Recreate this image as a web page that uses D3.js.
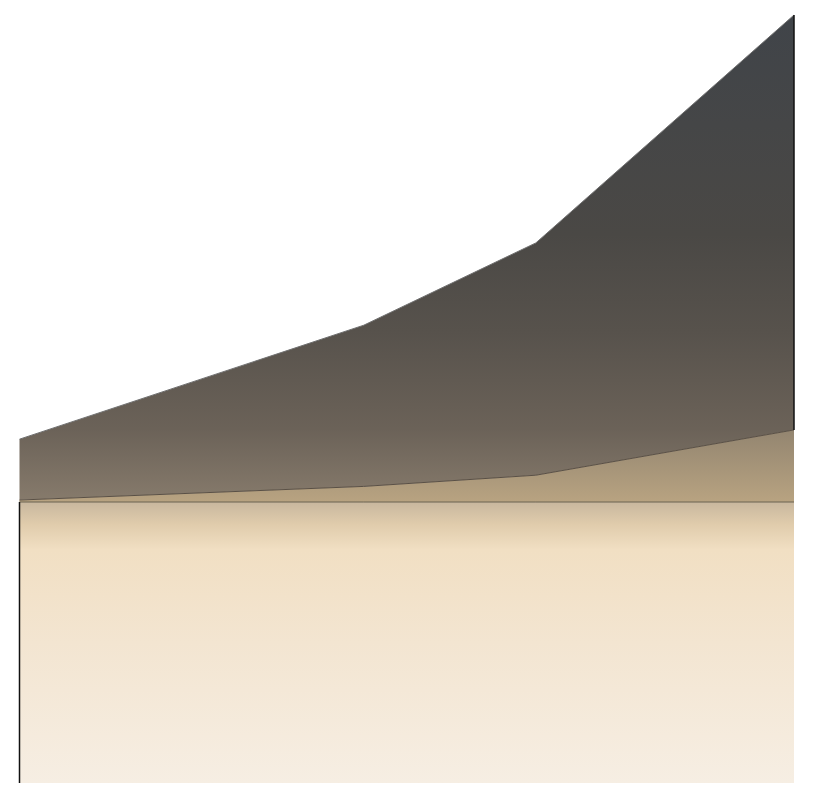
<!DOCTYPE html>
<html>
<head>
<meta charset="utf-8">
<script src="https://cdn.jsdelivr.net/npm/d3@7"></script>
<style>
  html, body { margin: 0; padding: 0; background: #fff; }
  svg { display: block; }
</style>
</head>
<body>
<div id="chart"></div>
<script>
'use strict';

// x positions of the four samples
const periods = [0, 4, 6, 9];

// layers, bottom one is negative
const baseValues = [-57.7, -57.7, -57.7, -57.7];
const midValues = [0.4, 3.2, 5.5, 14.8];
const topValues = [12.5, 33.1, 47.7, 85.2];

const keys = ['base', 'mid', 'top'];

const data = periods.map((p, i) => ({
  period: p,
  base: baseValues[i],
  mid: midValues[i],
  top: topValues[i],
}));

const width = 815, height = 800;
const padding = { top: 15, right: 21, bottom: 17, left: 19.5 };

const svg = d3.select('#chart')
  .append('svg')
  .attr('width', width)
  .attr('height', height);

const series = d3.stack()
  .keys(keys)
  .offset(d3.stackOffsetDiverging)(data);

const x = d3.scaleLinear()
  .domain(d3.extent(periods))
  .range([padding.left, width - padding.right]);

const y = d3.scaleLinear()
  .domain([d3.min(series, s => d3.min(s, d => d[0])), d3.max(series, s => d3.max(s, d => d[1]))])
  .range([height - padding.bottom, padding.top]);

// gradients
const defs = svg.append('defs');

function gradient(id, y1, y2, stops) {
  let g = defs.append('linearGradient')
    .attr('id', id)
    .attr('gradientUnits', 'userSpaceOnUse')
    .attr('x1', 0).attr('x2', 0)
    .attr('y1', y1).attr('y2', y2);
  g.selectAll('stop').data(stops).enter()
    .append('stop')
    .attr('offset', d => d[0])
    .attr('stop-color', d => d[1]);
}

const yTop = y.domain()[1], yBottom = y.domain()[0];

gradient('grad-top', y(yTop), y(0), [
  [0, '#404449'], [0.45, '#4a4845'], [0.65, '#57524c'], [0.85, '#6b6258'], [1, '#877b6c']
]);
gradient('grad-mid', y(d3.max(series[1], d => d[1])), y(0), [
  [0, '#938570'], [1, '#b8a381']
]);
gradient('grad-base', y(0), y(yBottom), [
  [0, '#c8b79e'], [0.08, '#e0ccac'], [0.17, '#f1dfc3'], [0.5, '#f3e5d1'], [1, '#f6eee3']
]);

const fills = { base: 'url(#grad-base)', mid: 'url(#grad-mid)', top: 'url(#grad-top)' };
const strokes = { base: '#6b6250', mid: '#5a5045', top: '#707070' };

const area = d3.area()
  .x(d => x(d.data.period))
  .y0(d => y(d[0]))
  .y1(d => y(d[1]));

svg.selectAll('path.layer').data(series).enter()
  .append('path')
  .attr('class', 'layer')
  .attr('d', area)
  .attr('fill', d => fills[d.key]);

// upper edge of each layer (for base this is the zero line)
const edge = d3.line()
  .x(d => x(d.data.period))
  .y(d => y(d[1]));

svg.selectAll('path.edge').data(series).enter()
  .append('path')
  .attr('class', 'edge')
  .attr('d', edge)
  .attr('fill', 'none')
  .attr('stroke', d => strokes[d.key])
  .attr('stroke-width', 1);

// dark side borders
const first = series[0][0], last = series[2][series[2].length - 1];
svg.append('line')
  .attr('x1', x(first.data.period)).attr('x2', x(first.data.period))
  .attr('y1', y(first[1])).attr('y2', y(first[0]))
  .attr('stroke', '#111').attr('stroke-width', 1.5);
svg.append('line')
  .attr('x1', x(last.data.period)).attr('x2', x(last.data.period))
  .attr('y1', y(last[0])).attr('y2', y(last[1]))
  .attr('stroke', '#111').attr('stroke-width', 1.5);
</script>
</body>
</html>
